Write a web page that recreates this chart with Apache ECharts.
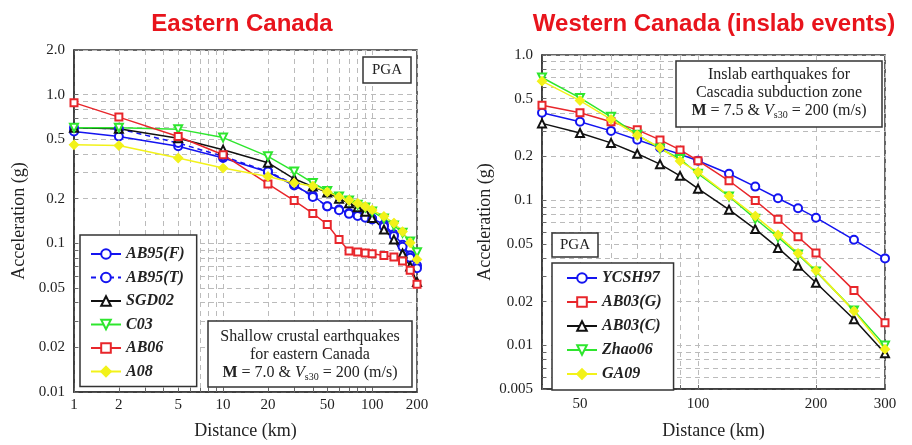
<!DOCTYPE html>
<html>
<head>
<meta charset="utf-8">
<script src="https://cdn.jsdelivr.net/npm/echarts@6.0.0/dist/echarts.min.js"></script>
<style>
  html, body { margin: 0; padding: 0; background: #fff; }
  #chart { width: 912px; height: 445px; }
</style>
</head>
<body>
<div id="chart"></div>
<script>
// ---- Eastern Canada (distance in km, PGA in g)
const eastDist = [1, 2, 5, 10, 20, 30, 40, 50, 60, 70, 80, 90, 100, 120, 140, 160, 180, 200];
const ab95f = [0.566, 0.524, 0.45, 0.375, 0.302, 0.245, 0.21, 0.177, 0.169, 0.16, 0.156, 0.152, 0.147, 0.134, 0.115, 0.098, 0.083, 0.071];
const ab95t = [0.60, 0.59, 0.473, 0.385, 0.305, 0.25, 0.205, 0.178, 0.167, 0.158, 0.153, 0.149, 0.145, 0.13, 0.112, 0.095, 0.08, 0.068];
const sgd02 = [0.60, 0.59, 0.51, 0.427, 0.349, 0.272, 0.241, 0.22, 0.20, 0.186, 0.175, 0.163, 0.148, 0.124, 0.106, 0.0855, 0.07, 0.055];
const c03 = [0.60, 0.60, 0.587, 0.515, 0.385, 0.305, 0.255, 0.225, 0.207, 0.194, 0.182, 0.174, 0.164, 0.147, 0.132, 0.118, 0.103, 0.087];
const ab06 = [0.885, 0.707, 0.524, 0.395, 0.251, 0.194, 0.159, 0.134, 0.106, 0.089, 0.0875, 0.086, 0.085, 0.083, 0.081, 0.076, 0.066, 0.053];
const a08 = [0.46, 0.455, 0.375, 0.321, 0.282, 0.255, 0.243, 0.222, 0.205, 0.195, 0.186, 0.177, 0.168, 0.152, 0.137, 0.12, 0.101, 0.078];

// ---- Western Canada, inslab events
const westDist = [40, 50, 60, 70, 80, 90, 100, 120, 140, 160, 180, 200, 250, 300];
const ycsh97 = [0.40, 0.347, 0.30, 0.261, 0.23, 0.207, 0.187, 0.152, 0.124, 0.103, 0.088, 0.0757, 0.0533, 0.0397];
const ab03g = [0.45, 0.40, 0.347, 0.305, 0.26, 0.222, 0.187, 0.136, 0.0995, 0.0738, 0.056, 0.0433, 0.0239, 0.0143];
const ab03c = [0.338, 0.29, 0.248, 0.209, 0.177, 0.147, 0.12, 0.086, 0.0632, 0.0469, 0.0353, 0.027, 0.0151, 0.0088];
const zhao06 = [0.70, 0.506, 0.375, 0.282, 0.227, 0.192, 0.152, 0.106, 0.0745, 0.0555, 0.0423, 0.0323, 0.0174, 0.00995];
const ga09 = [0.66, 0.485, 0.36, 0.28, 0.23, 0.186, 0.156, 0.107, 0.0777, 0.0576, 0.043, 0.0327, 0.0172, 0.0094];

// ---- tick labels
const eastXTicks = [1, 2, 5, 10, 20, 50, 100, 200];
const eastXLabels = ['1', '2', '5', '10', '20', '50', '100', '200'];
const eastYTicks = [0.01, 0.02, 0.05, 0.1, 0.2, 0.5, 1, 2];
const eastYLabels = ['0.01', '0.02', '0.05', '0.1', '0.2', '0.5', '1.0', '2.0'];
const westXTicks = [50, 100, 200, 300];
const westXLabels = ['50', '100', '200', '300'];
const westYTicks = [0.005, 0.01, 0.02, 0.05, 0.1, 0.2, 0.5, 1];
const westYLabels = ['0.005', '0.01', '0.02', '0.05', '0.1', '0.2', '0.5', '1.0'];

// dashed grid positions (log minor lines)
const eastXGrid = [1, 2, 3, 4, 5, 6, 7, 8, 9, 10, 20, 30, 40, 50, 60, 70, 80, 90, 100, 200];
const eastYGrid = [0.01, 0.02, 0.03, 0.04, 0.05, 0.06, 0.07, 0.08, 0.09, 0.1, 0.2, 0.3, 0.4, 0.5, 0.6, 0.7, 0.8, 0.9, 1, 2];
const westXGrid = [40, 50, 60, 70, 80, 90, 100, 200, 300];
const westYGrid = [0.005, 0.006, 0.007, 0.008, 0.009, 0.01, 0.02, 0.03, 0.04, 0.05, 0.06, 0.07, 0.08, 0.09, 0.1, 0.2, 0.3, 0.4, 0.5, 0.6, 0.7, 0.8, 0.9, 1];

const SERIF = '"Liberation Serif", "Times New Roman", serif';
const SANS = '"Liberation Sans", Arial, sans-serif';

const BLUE = '#1414f0', RED = '#e8262b', BLACK = '#111', GREEN = '#2ee62e', YELLOW = '#f2f21a';

function fmt(ticks, labels) {
    return v => {
        const i = ticks.findIndex(t => Math.abs(t - v) / t < 1e-6);
        return i >= 0 ? labels[i] : '';
    };
}

function logAxis(idx, min, max, grid, ticks, labels, name, gap, margin) {
    return {
        type: 'log', logBase: 10, gridIndex: idx, min: min, max: max,
        name: name, nameLocation: 'middle', nameGap: gap,
        nameTextStyle: { fontFamily: SERIF, fontSize: 18, color: '#222' },
        axisLine: { show: true, lineStyle: { color: '#333', width: 1.5 } },
        axisTick: { show: true, inside: true, length: 4, customValues: grid, lineStyle: { color: '#666' } },
        axisLabel: {
            customValues: ticks, formatter: fmt(ticks, labels), margin: margin,
            fontFamily: SERIF, fontSize: 15, color: '#222'
        },
        splitLine: { show: true, lineStyle: { color: '#bbb', type: [5, 4], width: 1 } },
        minorTick: { show: false }
    };
}

function line(name, xi, xs, ys, color, symbol, extra) {
    return Object.assign({
        name: name, type: 'line', xAxisIndex: xi, yAxisIndex: xi,
        data: xs.map((x, i) => [x, ys[i]]),
        symbol: symbol, symbolSize: 8,
        itemStyle: { color: color, borderColor: color, borderWidth: 1.3 },
        lineStyle: { color: color, width: 1.5 },
        emphasis: { disabled: true },
        animation: false
    }, extra || {});
}

const chart = echarts.init(document.getElementById('chart'));

const legendText = { fontFamily: SERIF, fontSize: 16, fontWeight: 'bold', fontStyle: 'italic', color: '#222' };

chart.setOption({
    backgroundColor: '#fff',
    animation: false,
    title: [
        { text: 'Eastern Canada', left: 237, top: 7, textAlign: 'center',
          textStyle: { fontFamily: SANS, fontSize: 24, fontWeight: 'bold', color: '#e8141c' } },
        { text: 'Western Canada (inslab events)', left: 709, top: 7, textAlign: 'center',
          textStyle: { fontFamily: SANS, fontSize: 24, fontWeight: 'bold', color: '#e8141c' } }
    ],
    grid: [
        { left: 74, top: 50, width: 343, height: 343, show: true, borderColor: '#333', borderWidth: 1.5, containLabel: false },
        { left: 542, top: 55, width: 343, height: 342, show: true, borderColor: '#333', borderWidth: 1.5, containLabel: false }
    ],
    xAxis: [
        logAxis(0, 1, 200, eastXGrid, eastXTicks, eastXLabels, 'Distance (km)', 30, 6),
        logAxis(1, 40, 300, westXGrid, westXTicks, westXLabels, 'Distance (km)', 33, 8)
    ],
    yAxis: [
        logAxis(0, 0.01, 2, eastYGrid, eastYTicks, eastYLabels, 'Acceleration (g)', 46, 9),
        logAxis(1, 0.005, 1, westYGrid, westYTicks, westYLabels, 'Acceleration (g)', 48, 9)
    ],
    legend: [
        { orient: 'vertical', left: 80, top: 235, padding: [11, 12, 7, 10],
          itemWidth: 30, itemHeight: 12, itemGap: 7.5,
          borderColor: '#333', borderWidth: 1.5, backgroundColor: '#fff',
          textStyle: legendText, selectedMode: false,
          data: ['AB95(F)', 'AB95(T)', 'SGD02', 'C03', 'AB06', 'A08'] },
        { orient: 'vertical', left: 552, top: 263, padding: [7, 12, 8, 14],
          itemWidth: 30, itemHeight: 12, itemGap: 8,
          borderColor: '#333', borderWidth: 1.5, backgroundColor: '#fff',
          textStyle: legendText, selectedMode: false,
          data: ['YCSH97', 'AB03(G)', 'AB03(C)', 'Zhao06', 'GA09'] }
    ],
    graphic: [
        // PGA boxes
        { type: 'rect', z: 50, shape: { x: 363, y: 57, width: 48, height: 26 },
          style: { fill: '#fff', stroke: '#333', lineWidth: 1.5 } },
        { type: 'text', z: 51, x: 387, y: 70,
          style: { text: 'PGA', fontFamily: SERIF, fontSize: 15, fill: '#222', align: 'center', verticalAlign: 'middle' } },
        { type: 'rect', z: 50, shape: { x: 552, y: 233, width: 46, height: 24 },
          style: { fill: '#fff', stroke: '#333', lineWidth: 1.5 } },
        { type: 'text', z: 51, x: 575, y: 245,
          style: { text: 'PGA', fontFamily: SERIF, fontSize: 15, fill: '#222', align: 'center', verticalAlign: 'middle' } },
        // description boxes
        { type: 'rect', z: 50, shape: { x: 208, y: 321, width: 204, height: 66 },
          style: { fill: '#fff', stroke: '#333', lineWidth: 1.5 } },
        { type: 'text', z: 51, x: 310, y: 328,
          style: {
              text: 'Shallow crustal earthquakes\nfor eastern Canada\n{b|M} = 7.0 & {i|V}{s|s30} = 200 (m/s)',
              fontFamily: SERIF, fontSize: 16, lineHeight: 18, fill: '#222', align: 'center', verticalAlign: 'top',
              rich: {
                  b: { fontFamily: SERIF, fontSize: 16, fontWeight: 'bold', fill: '#222', lineHeight: 18 },
                  i: { fontFamily: SERIF, fontSize: 16, fontStyle: 'italic', fill: '#222', lineHeight: 18 },
                  s: { fontFamily: SERIF, fontSize: 10, fill: '#222', verticalAlign: 'bottom', lineHeight: 14 }
              }
          } },
        { type: 'rect', z: 50, shape: { x: 676, y: 61, width: 206, height: 66 },
          style: { fill: '#fff', stroke: '#333', lineWidth: 1.5 } },
        { type: 'text', z: 51, x: 779, y: 66,
          style: {
              text: 'Inslab earthquakes for\nCascadia subduction zone\n{b|M} = 7.5 & {i|V}{s|s30} = 200 (m/s)',
              fontFamily: SERIF, fontSize: 16, lineHeight: 18, fill: '#222', align: 'center', verticalAlign: 'top',
              rich: {
                  b: { fontFamily: SERIF, fontSize: 16, fontWeight: 'bold', fill: '#222', lineHeight: 18 },
                  i: { fontFamily: SERIF, fontSize: 16, fontStyle: 'italic', fill: '#222', lineHeight: 18 },
                  s: { fontFamily: SERIF, fontSize: 10, fill: '#222', verticalAlign: 'bottom', lineHeight: 14 }
              }
          } }
    ],
    series: [
        line('AB95(F)', 0, eastDist, ab95f, BLUE, 'emptyCircle'),
        line('AB95(T)', 0, eastDist, ab95t, BLUE, 'emptyCircle', { lineStyle: { color: BLUE, width: 1.5, type: [5, 4] } }),
        line('SGD02', 0, eastDist, sgd02, BLACK, 'emptyTriangle'),
        line('C03', 0, eastDist, c03, GREEN, 'emptyTriangle', { symbolRotate: 180 }),
        line('AB06', 0, eastDist, ab06, RED, 'emptyRect', { symbolSize: 7 }),
        line('A08', 0, eastDist, a08, YELLOW, 'diamond', { symbolSize: 9 }),

        line('YCSH97', 1, westDist, ycsh97, BLUE, 'emptyCircle'),
        line('AB03(G)', 1, westDist, ab03g, RED, 'emptyRect', { symbolSize: 7 }),
        line('AB03(C)', 1, westDist, ab03c, BLACK, 'emptyTriangle'),
        line('Zhao06', 1, westDist, zhao06, GREEN, 'emptyTriangle', { symbolRotate: 180 }),
        line('GA09', 1, westDist, ga09, YELLOW, 'diamond', { symbolSize: 9 })
    ]
});
</script>
</body>
</html>
